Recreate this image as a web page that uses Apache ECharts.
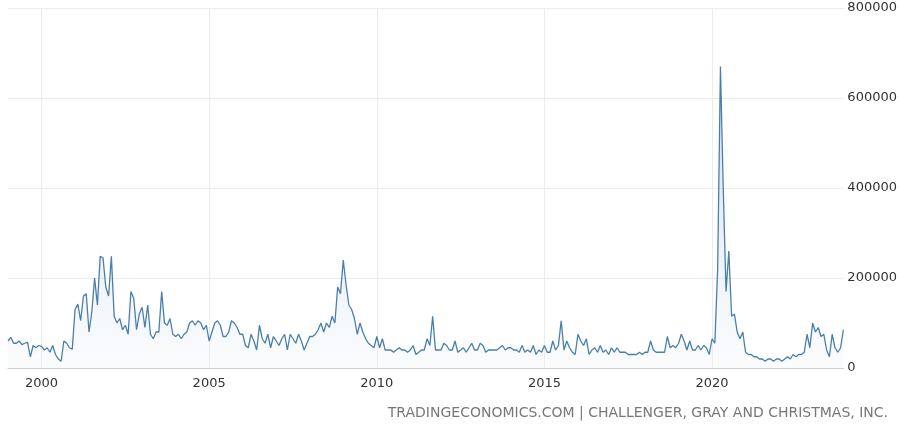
<!DOCTYPE html>
<html><head><meta charset="utf-8">
<script src="https://cdn.jsdelivr.net/npm/echarts@6/dist/echarts.min.js"></script>
<style>html,body{margin:0;padding:0;background:#fff}#c{width:900px;height:425px}</style>
</head><body><div id="c"></div>
<script>
const startYear = 1999;
const valuesK = [
 60,68,55,55,60,52,55,57,25,50,45,50,
 48,40,45,35,50,30,20,15,60,55,45,42,
 130,142,105,160,165,80,125,200,140,248,245,180,
 160,248,115,100,110,85,95,75,170,155,85,120,
 135,90,140,75,65,80,80,170,100,95,110,75,
 70,75,65,75,80,100,105,95,105,100,85,95,
 60,80,100,105,95,70,70,80,105,100,90,75,
 75,50,45,75,60,40,95,65,55,75,45,70,
 60,50,65,75,40,75,65,55,75,60,40,55,
 70,70,75,85,100,80,100,90,115,100,180,165,
 240,185,140,130,110,75,100,80,65,55,50,45,
 70,45,65,40,40,40,35,40,45,40,40,35,
 40,50,30,35,40,40,65,50,115,40,40,40,
 55,50,40,40,60,35,40,45,35,45,55,40,
 40,55,50,35,40,40,40,40,45,50,40,45,
 45,40,40,35,50,35,40,35,50,30,40,35,
 50,35,35,60,40,50,105,40,60,45,35,30,
 75,60,50,65,30,40,45,35,50,35,40,30,
 45,35,45,35,35,35,30,30,30,30,35,30,
 35,35,60,40,35,35,35,35,70,45,50,45,
 55,75,60,40,60,40,40,50,40,50,45,30,
 65,55,220,670,400,170,260,115,120,80,65,80,
 35,30,30,25,25,20,20,15,20,20,15,20,
 20,15,20,25,20,30,25,30,30,35,75,45,
 100,80,90,70,75,40,25,75,45,35,45,85
];
const categories = valuesK.map((v,i)=>{const y=startYear+Math.floor(i/12);const m=i%12+1;return y+'-'+(m<10?'0':'')+m;});
const values = valuesK.map(v=>v*1000);
const yTicks = [0,200000,400000,600000,800000];
const isTick = (i)=>{const c=categories[i];return c.endsWith('-01') && (+c.slice(0,4))%5===0;};
const chart = echarts.init(document.getElementById('c'));
chart.setOption({
  animation:false,
  grid:{left:8,right:55,top:8,bottom:57},
  xAxis:{type:'category',data:categories,boundaryGap:false,
    axisLine:{show:true,lineStyle:{color:'#ccc'}},axisTick:{show:false},
    axisLabel:{interval:(i)=>isTick(i),formatter:(v)=>v.slice(0,4),color:'#333',fontSize:13,fontFamily:'DejaVu Sans',margin:9},
    splitLine:{show:true,interval:(i)=>isTick(i),lineStyle:{color:'#ececec'}}},
  yAxis:{type:'value',position:'right',min:0,max:800000,interval:200000,
    axisLine:{show:false},axisTick:{show:false},
    axisLabel:{color:'#333',fontSize:13,fontFamily:'DejaVu Sans',align:'left',margin:4,formatter:(v)=>yTicks.includes(v)?String(v):''},
    splitLine:{lineStyle:{color:'#ececec'}}},
  series:[{type:'line',data:values,symbol:'none',lineStyle:{color:'#4a7fab',width:1.3},
    areaStyle:{color:new echarts.graphic.LinearGradient(0,0,0,1,[{offset:0,color:'rgba(120,160,200,0.5)'},{offset:1,color:'rgba(230,238,246,0.3)'}])}}],
  graphic:[{type:'text',right:12,top:406,style:{text:'TRADINGECONOMICS.COM | CHALLENGER, GRAY AND CHRISTMAS, INC.',fill:'#777',fontSize:14,fontFamily:'DejaVu Sans'}}]
});
</script></body></html>
